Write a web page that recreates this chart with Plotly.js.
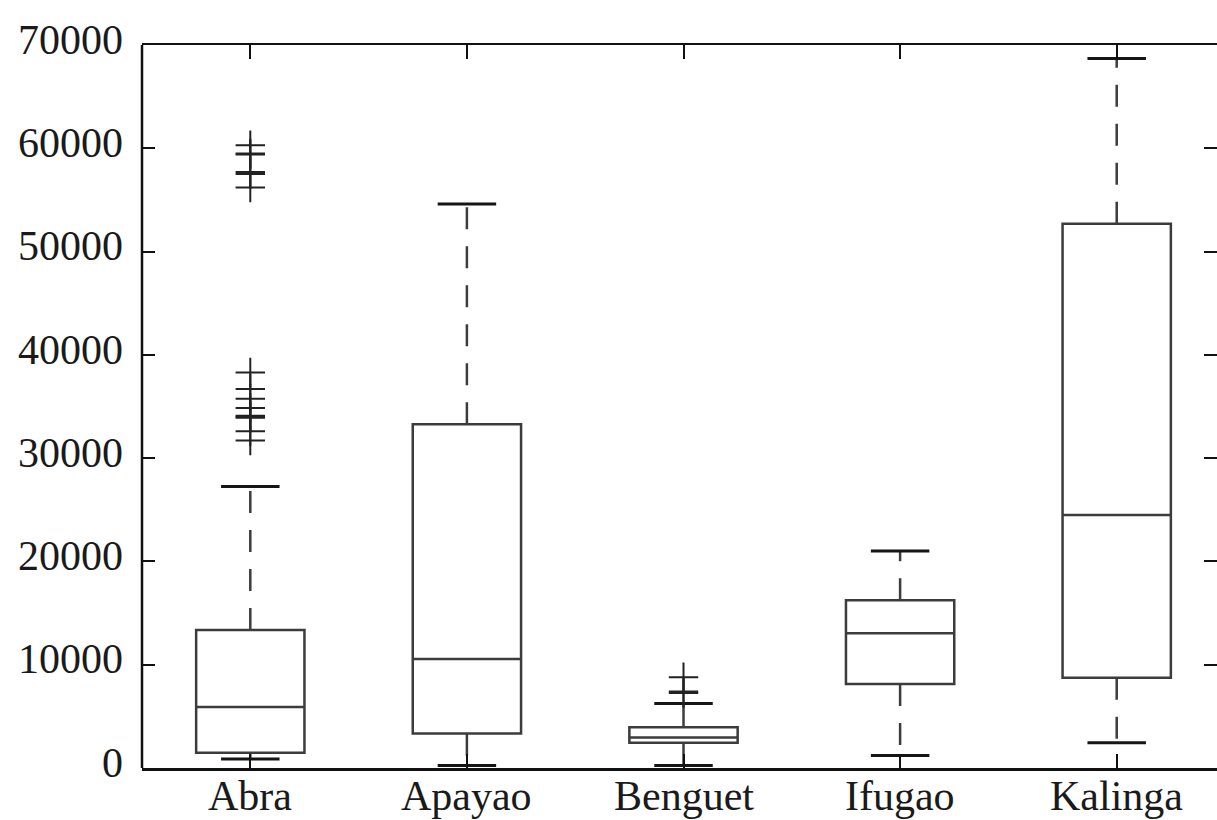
<!DOCTYPE html>
<html>
<head>
<meta charset="utf-8">
<script src="https://cdn.plot.ly/plotly-3.0.1.min.js"></script>
<style>html,body{margin:0;padding:0;background:#fff;}#chart{width:1217px;height:820px;}</style>
</head>
<body>
<div id="chart"></div>
<script>
// ---- data ----
const categories = ["Abra", "Apayao", "Benguet", "Ifugao", "Kalinga"];
const q1Values     = [1480, 3330, 2450, 8130, 8750];
const medianValues = [5900, 10550, 2950, 13040, 24500];
const q3Values     = [13350, 33270, 3940, 16250, 52700];
const lowerWhisker = [870, 250, 250, 1200, 2450];
const upperWhisker = [27250, 54600, 6250, 21000, 68700];
const outlierCategory = ["Abra","Abra","Abra","Abra","Abra","Abra",
  "Abra","Abra","Abra","Abra","Abra","Abra","Abra","Abra","Abra",
  "Benguet","Benguet","Benguet"];
const outlierValues = [60300, 59500, 59400, 57700, 57500, 56200,
  38300, 36700, 35750, 34850, 34100, 33900, 32600, 31700, 34000,
  8780, 7400, 7250];
const yTickValues = [0, 10000, 20000, 30000, 40000, 50000, 60000, 70000];
const yTickLabels = ["0", "10000", "20000", "30000", "40000", "50000", "60000", "70000"];

// ---- styling constants ----
const boxColor = "#3c3c3c";
const capColor = "#151515";
const capHalf = 0.135;
const pos = categories.map((c, i) => i + 1);

const traces = [];
traces.push({
  type: "box",
  x: pos,
  q1: q1Values,
  median: medianValues,
  q3: q3Values,
  lowerfence: q1Values,
  upperfence: q3Values,
  width: 0.5,
  whiskerwidth: 0,
  fillcolor: "rgba(0,0,0,0)",
  line: {color: boxColor, width: 2.5},
  hoverinfo: "skip",
  showlegend: false
});
categories.forEach((c, i) => {
  traces.push({
    type: "scatter", mode: "lines",
    x: [pos[i], pos[i], null, pos[i], pos[i]],
    y: [q3Values[i], upperWhisker[i], null, q1Values[i], lowerWhisker[i]],
    line: {color: boxColor, width: 2.5, dash: "22px,17px"},
    hoverinfo: "skip", showlegend: false
  });
  traces.push({
    type: "scatter", mode: "lines",
    x: [pos[i]-capHalf, pos[i]+capHalf, null, pos[i]-capHalf, pos[i]+capHalf],
    y: [upperWhisker[i], upperWhisker[i], null, lowerWhisker[i], lowerWhisker[i]],
    line: {color: capColor, width: 3},
    hoverinfo: "skip", showlegend: false
  });
});
traces.push({
  type: "scatter", mode: "markers",
  x: outlierCategory.map(c => categories.indexOf(c) + 1),
  y: outlierValues,
  marker: {symbol: "cross-thin-open", size: 21, color: "#222", line: {color: "#222", width: 2}},
  hoverinfo: "skip", showlegend: false
});

const fontFam = "Liberation Serif, Times New Roman, serif";
const layout = {
  width: 1217, height: 820,
  margin: {l: 142, r: 0, t: 45, b: 52, pad: 0},
  paper_bgcolor: "#fff", plot_bgcolor: "#fff",
  font: {family: fontFam, size: 42, color: "#1a1a1a"},
  xaxis: {
    range: [0.5, 5.463],
    tickvals: pos,
    showticklabels: false,
    ticks: "inside", ticklen: 14, tickwidth: 2, tickcolor: "#111",
    showline: true, linecolor: "#111", linewidth: 2.5, mirror: "ticks",
    showgrid: false, zeroline: false
  },
  yaxis: {
    range: [0, 70000],
    tickvals: yTickValues,
    ticktext: yTickLabels,
    ticks: "inside", ticklen: 13, tickwidth: 2, tickcolor: "#111",
    showline: false, mirror: "ticks",
    showgrid: false, zeroline: false,
    ticklabelstandoff: 18,
    ticklabelshift: -6,
    tickfont: {family: fontFam, size: 42, color: "#1a1a1a"}
  },
  annotations: categories.map((c, i) => ({
    text: c, x: pos[i], xref: "x", y: 0, yref: "paper",
    yanchor: "top", xanchor: "center", showarrow: false,
    yshift: -4, borderpad: 0,
    font: {family: fontFam, size: 42, color: "#1a1a1a"}
  })),
  shapes: [{
    type: "line", xref: "paper", yref: "paper",
    x0: 0, x1: 0, y0: 0, y1: 1,
    line: {color: "#111", width: 2.5}
  }]
};
Plotly.newPlot("chart", traces, layout, {staticPlot: true, displayModeBar: false});
</script>
</body>
</html>
